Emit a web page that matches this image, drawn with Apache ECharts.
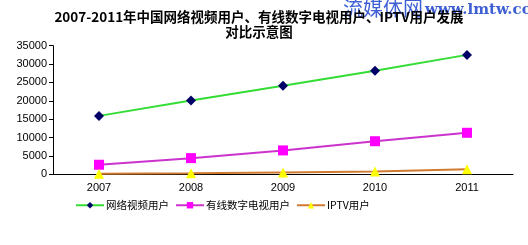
<!DOCTYPE html>
<html><head><meta charset="utf-8">
<script src="https://cdn.jsdelivr.net/npm/echarts@6/dist/echarts.min.js"></script>
<style>html,body{margin:0;padding:0;background:#fff}#c{width:528px;height:245px}</style>
</head><body><div id="c"></div>
<script>
const categories = ['2007','2008','2009','2010','2011'];
const seriesNames = ['网络视频用户','有线数字电视用户','IPTV用户'];
const onlineVideo = [15900, 20100, 24100, 28200, 32500];
const cableDigital = [2600, 4400, 6500, 9000, 11300];
const iptv = [120, 270, 470, 750, 1350];
const yTicks = [0, 5000, 10000, 15000, 20000, 25000, 30000, 35000];

const chart = echarts.init(document.getElementById('c'));
const cjk = '"Noto Sans CJK SC", sans-serif';
chart.setOption({
  animation: false,
  title: {
    text: '2007-2011年中国网络视频用户、有线数字电视用户、IPTV用户发展\n对比示意图',
    left: 254, top: 4, textAlign: 'center', z: 10,
    textStyle: {fontSize: 13.5, fontWeight: 'bold', color: '#000', fontFamily: cjk, lineHeight: 15}
  },
  graphic: [
    {type: 'text', left: 343, top: -2, z: 1, style: {text: '流媒体网', fontSize: 20, fill: '#2a4fd0', fontFamily: cjk, opacity: 0.9}},
    {type: 'text', left: 425, top: 3, z: 1, style: {text: 'www.lmtw.com', fontSize: 15, fontWeight: 'bold', fill: '#2a4fd0', fontFamily: '"DejaVu Serif", serif', opacity: 0.9}}
  ],
  grid: {left: 53, right: 15, top: 45.7, bottom: 70.7},
  legend: {
    left: 70, top: 195, itemGap: 6, itemWidth: 28, itemHeight: 8,
    textStyle: {fontSize: 10.5, color: '#000', fontFamily: cjk, padding: [0,0,0,-3]},
    data: seriesNames
  },
  xAxis: {
    type: 'category', data: categories, boundaryGap: true,
    axisLine: {lineStyle: {color: '#000', width: 1}},
    axisTick: {inside: true, length: 4, lineStyle: {color: '#000'}},
    axisLabel: {fontSize: 11, color: '#000', fontFamily: 'Liberation Sans, Arial, sans-serif', margin: 8}
  },
  yAxis: {
    type: 'value', min: yTicks[0], max: yTicks[yTicks.length-1], interval: 5000,
    splitLine: {show: false},
    axisLine: {show: true, lineStyle: {color: '#000', width: 1}},
    axisTick: {show: true, length: 4, lineStyle: {color: '#000'}},
    axisLabel: {fontSize: 11, color: '#000', fontFamily: 'Liberation Sans, Arial, sans-serif', margin: 6,
      formatter: v => String(v)}
  },
  series: [
    {name: seriesNames[0], type: 'line', data: onlineVideo, symbol: 'diamond', symbolSize: 10,
     lineStyle: {color: '#33dd33', width: 2}, itemStyle: {color: '#000066'}},
    {name: seriesNames[1], type: 'line', data: cableDigital, symbol: 'rect', symbolSize: 10,
     lineStyle: {color: '#cc33cc', width: 2}, itemStyle: {color: '#ff00ff'}},
    {name: seriesNames[2], type: 'line', data: iptv, symbol: 'triangle', symbolSize: 10,
     lineStyle: {color: '#d07a30', width: 2}, itemStyle: {color: '#ffff00'}}
  ]
});
</script></body></html>
